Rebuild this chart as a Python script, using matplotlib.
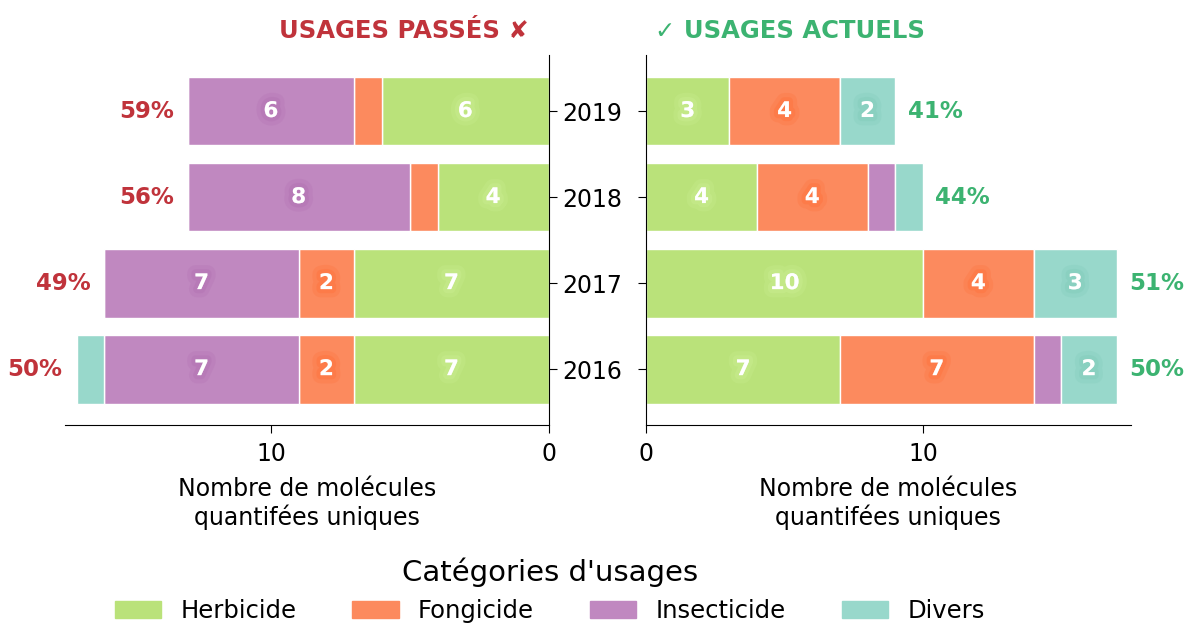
import matplotlib
matplotlib.use("Agg")
import matplotlib.pyplot as plt
import matplotlib.patheffects as pe
import numpy as np

years = ["2019", "2018", "2017", "2016"]
categories = ["Herbicide", "Fongicide", "Insecticide", "Divers"]
colors = ["#bae27a", "#fc8a5e", "#c088c0", "#98d8cb"]
halo = ["#c8ec8e", "#ff7440", "#b474b4", "#84cdbc"]

past_herbicide = [6, 4, 7, 7]
past_fongicide = [1, 1, 2, 2]
past_insecticide = [6, 8, 7, 7]
past_divers = [0, 0, 0, 1]

cur_herbicide = [3, 4, 10, 7]
cur_fongicide = [4, 4, 4, 7]
cur_insecticide = [0, 1, 0, 1]
cur_divers = [2, 1, 3, 2]

past_pct = ["59%", "56%", "49%", "50%"]
cur_pct = ["41%", "44%", "51%", "50%"]

red = "#c0333b"
green = "#3cb371"

fig = plt.figure(figsize=(11.9, 6.26), dpi=100)
axL = fig.add_axes([0.055, 0.321, 0.406, 0.591])
axR = fig.add_axes([0.543, 0.321, 0.407, 0.591])

ypos = np.arange(len(years))

def draw(ax, series, pct, side):
    left = np.zeros(len(years))
    for vals, col, hc in zip(series, colors, halo):
        vals = np.array(vals, dtype=float)
        ax.barh(ypos, vals, left=left, height=0.8, color=col,
                edgecolor="white", linewidth=1)
        for i, v in enumerate(vals):
            if v >= 2:
                ax.text(left[i] + v / 2, ypos[i], f"{int(v)}", ha="center",
                        va="center", color="white", fontsize=15.5,
                        fontweight="bold",
                        path_effects=[pe.withStroke(linewidth=12, foreground=hc, alpha=0.3),
                                      pe.withStroke(linewidth=6, foreground=hc, alpha=0.5)])
        left += vals
    for i, t in enumerate(pct):
        if side == "L":
            ax.text(left[i] + 0.5, ypos[i], t, ha="right", va="center",
                    color=red, fontsize=16.5, fontweight="bold")
        else:
            ax.text(left[i] + 0.45, ypos[i], t, ha="left", va="center",
                    color=green, fontsize=16.5, fontweight="bold")

draw(axL, [past_herbicide, past_fongicide, past_insecticide, past_divers], past_pct, "L")
draw(axR, [cur_herbicide, cur_fongicide, cur_insecticide, cur_divers], cur_pct, "R")

for ax in (axL, axR):
    ax.set_ylim(3.65, -0.65)
    ax.spines["top"].set_visible(False)
    ax.set_xticks([0, 10])
    ax.tick_params(axis="both", labelsize=17, length=6)
    ax.tick_params(axis="x", pad=6)
    ax.set_xlabel("Nombre de molécules\nquantifées uniques", fontsize=17, labelpad=8)

axL.set_xlim(17.4, 0)
axL.spines["left"].set_visible(False)
axL.yaxis.tick_right()
axL.set_yticks(ypos)
axL.set_yticklabels(years)

axR.set_xlim(0, 17.5)
axR.spines["right"].set_visible(False)
axR.set_yticks(ypos)
axR.set_yticklabels([])

fig.text(0.339, 0.95, "USAGES PASSÉS ✘", ha="center", va="center",
         color=red, fontsize=17.5, fontweight="bold")
fig.text(0.664, 0.95, "✓ USAGES ACTUELS", ha="center", va="center",
         color=green, fontsize=17.5, fontweight="bold")

handles = [plt.Rectangle((0, 0), 1, 1, color=c) for c in colors]
fig.legend(handles, categories, title="Catégories d'usages", loc="lower center",
           bbox_to_anchor=(0.462, -0.022), ncol=4, frameon=False, fontsize=17.5,
           title_fontsize=21, handlelength=1.9, columnspacing=2.3,
           handletextpad=0.8, borderpad=0.2)

fig.savefig("out.png", dpi=100)
